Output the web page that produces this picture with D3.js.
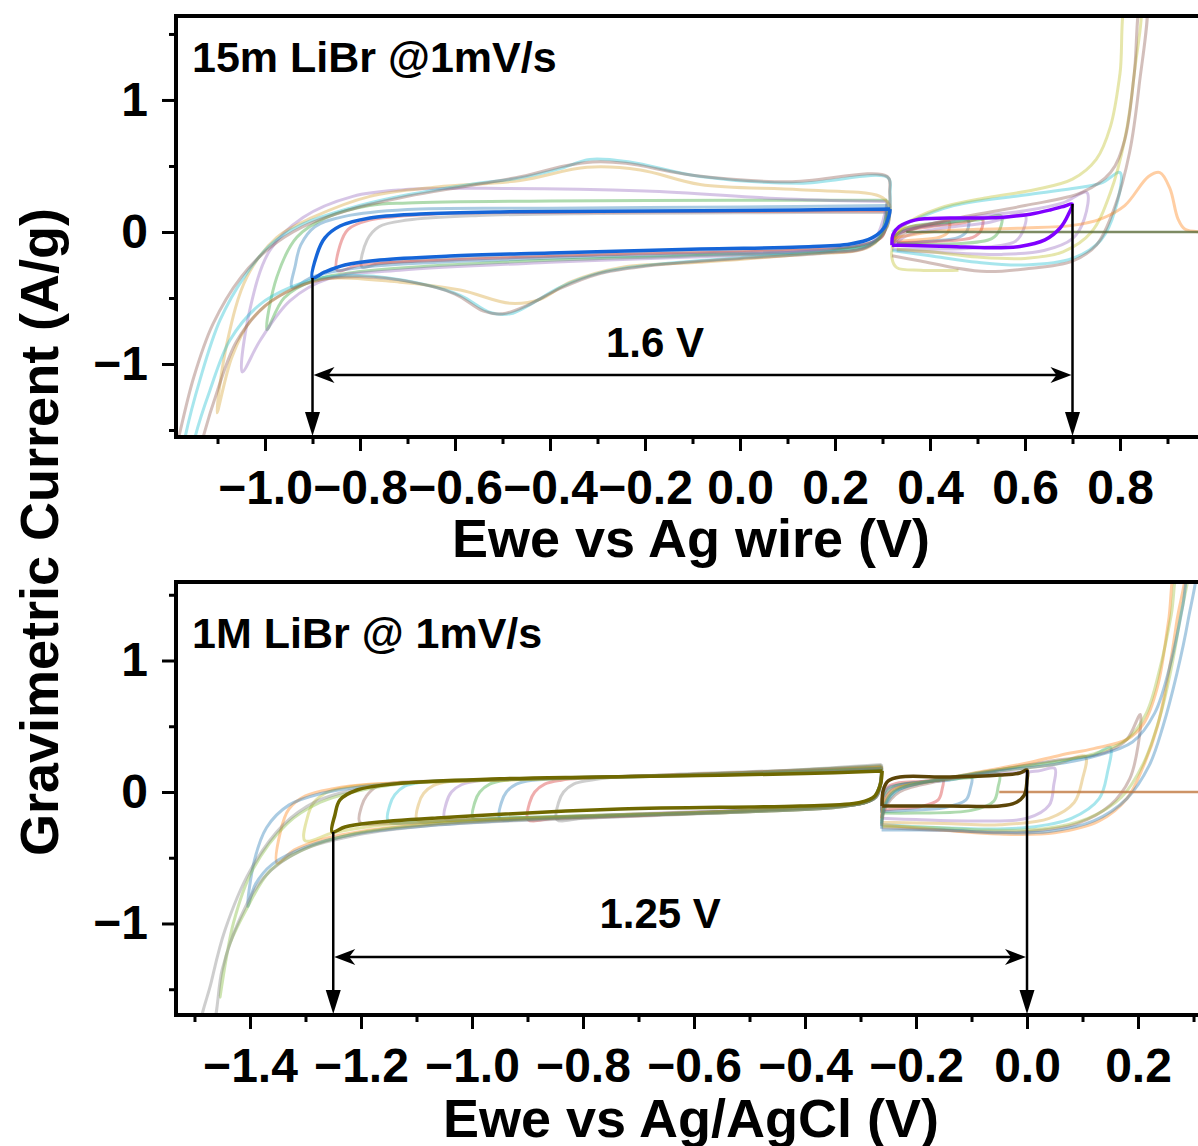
<!DOCTYPE html>
<html>
<head>
<meta charset="utf-8">
<script src="https://cdn.jsdelivr.net/npm/d3@7"></script>
<style>
body { margin: 0; background: #fff; }
svg { display: block; font-family: "Liberation Sans", Arial, sans-serif; font-weight: bold; }
</style>
</head>
<body>
<svg id="chart"></svg>
<script>
const chartSize = { width: 1198, height: 1146 };

// axis extents and ticks
const wireXDomain = [-1.1874, 1.0];
const wireYDomain = [-1.553, 1.636];
const agclXDomain = [-1.5333, 0.3387];
const agclYDomain = [-1.696, 1.597];
const wireMajorTicks = [-1.0, -0.8, -0.6, -0.4, -0.2, 0.0, 0.2, 0.4, 0.6, 0.8];
const wireMinorTicks = [-1.1, -0.9, -0.7, -0.5, -0.3, -0.1, 0.1, 0.3, 0.5, 0.7, 0.9];
const agclMajorTicks = [-1.4, -1.2, -1.0, -0.8, -0.6, -0.4, -0.2, 0.0, 0.2];
const agclMinorTicks = [-1.5, -1.3, -1.1, -0.9, -0.7, -0.5, -0.3, -0.1, 0.1, 0.3];
const currentMajorTicks = [-1, 0, 1];
const currentMinorTicks = [-1.5, -0.5, 0.5, 1.5];

// ---- 15m LiBr, Ag wire: negative-side scans ----
const wireBlue = [[0.316,0.174],[0.126,0.167],[-0.189,0.159],[-0.505,0.152],[-0.674,0.136],[-0.779,0.106],[-0.842,0.045],[-0.874,-0.045],[-0.891,-0.174],[-0.9,-0.348],[-0.874,-0.303],[-0.832,-0.25],[-0.758,-0.212],[-0.611,-0.182],[-0.4,-0.159],[-0.084,-0.129],[0.126,-0.114],[0.232,-0.091],[0.278,-0.045],[0.303,0.03],[0.314,0.129],[0.316,0.174]];
const wireGray = [[0.31,0.15],[0.0,0.145],[-0.3,0.14],[-0.55,0.125],[-0.7,0.09],[-0.76,0.04],[-0.785,-0.06],[-0.796,-0.265],[-0.76,-0.24],[-0.6,-0.2],[-0.3,-0.17],[0.1,-0.13],[0.25,-0.1],[0.3,-0.03],[0.31,0.15]];
const wireRed = [[0.31,0.16],[0.0,0.155],[-0.35,0.15],[-0.65,0.135],[-0.78,0.09],[-0.825,0.02],[-0.842,-0.1],[-0.848,-0.29],[-0.8,-0.25],[-0.6,-0.21],[-0.3,-0.175],[0.1,-0.14],[0.25,-0.105],[0.3,-0.03],[0.31,0.16]];
const wireLightBlue = [[0.31,0.2],[0.0,0.19],[-0.4,0.18],[-0.7,0.17],[-0.83,0.12],[-0.895,0.04],[-0.925,-0.1],[-0.936,-0.25],[-0.943,-0.42],[-0.9,-0.34],[-0.8,-0.27],[-0.5,-0.21],[-0.1,-0.17],[0.2,-0.13],[0.29,-0.05],[0.31,0.2]];
const wireGreen = [[0.31,0.24],[0.0,0.24],[-0.4,0.235],[-0.7,0.22],[-0.78,0.2],[-0.87,0.11],[-0.933,-0.04],[-0.975,-0.34],[-0.996,-0.74],[-0.96,-0.5],[-0.9,-0.37],[-0.8,-0.3],[-0.5,-0.23],[-0.1,-0.18],[0.2,-0.14],[0.29,-0.06],[0.31,0.24]];
const wireLavender = [[0.31,0.23],[0.1,0.25],[-0.2,0.31],[-0.5,0.33],[-0.709,0.32],[-0.815,0.27],[-0.92,0.11],[-0.99,-0.14],[-1.032,-0.59],[-1.048,-1.06],[-1.01,-0.82],[-0.947,-0.52],[-0.863,-0.35],[-0.716,-0.29],[-0.4,-0.23],[-0.1,-0.19],[0.126,-0.15],[0.274,-0.1],[0.31,0.23]];
const wireTan = [[0.316,0.2],[0.295,0.27],[0.126,0.32],[-0.084,0.36],[-0.21,0.47],[-0.322,0.49],[-0.463,0.39],[-0.638,0.34],[-0.779,0.27],[-0.9,0.11],[-0.975,-0.04],[-1.038,-0.34],[-1.08,-0.84],[-1.101,-1.37],[-1.07,-0.95],[-1.03,-0.67],[-0.968,-0.48],[-0.884,-0.36],[-0.716,-0.38],[-0.589,-0.44],[-0.484,-0.54],[-0.421,-0.51],[-0.358,-0.38],[-0.253,-0.27],[-0.084,-0.23],[0.126,-0.17],[0.274,-0.11],[0.31,0.05],[0.316,0.2]];
const wireCyan = [[-1.175,-1.7],[-1.168,-1.55],[-1.137,-1.12],[-1.095,-0.67],[-1.042,-0.33],[-0.989,-0.1],[-0.926,0.05],[-0.821,0.18],[-0.716,0.27],[-0.568,0.36],[-0.463,0.41],[-0.379,0.48],[-0.316,0.55],[-0.232,0.53],[-0.084,0.42],[0.126,0.37],[0.312,0.41],[0.316,0.3],[0.31,0.05],[0.274,-0.1],[0.189,-0.15],[0.021,-0.19],[-0.189,-0.25],[-0.295,-0.31],[-0.379,-0.42],[-0.442,-0.55],[-0.484,-0.62],[-0.526,-0.61],[-0.589,-0.48],[-0.674,-0.39],[-0.8,-0.33],[-0.884,-0.35],[-0.947,-0.42],[-1.011,-0.55],[-1.074,-0.82],[-1.116,-1.2],[-1.147,-1.55],[-1.155,-1.7]];
const wireBrown = [[-1.19,-1.7],[-1.178,-1.5],[-1.15,-1.1],[-1.11,-0.7],[-1.05,-0.34],[-0.99,-0.12],[-0.92,0.04],[-0.82,0.17],[-0.7,0.27],[-0.57,0.35],[-0.46,0.42],[-0.37,0.5],[-0.31,0.53],[-0.24,0.52],[-0.1,0.43],[0.1,0.38],[0.31,0.42],[0.315,0.3],[0.31,0.04],[0.27,-0.11],[0.18,-0.16],[0.0,-0.2],[-0.2,-0.26],[-0.3,-0.32],[-0.38,-0.43],[-0.45,-0.56],[-0.5,-0.62],[-0.54,-0.6],[-0.6,-0.47],[-0.69,-0.38],[-0.8,-0.34],[-0.88,-0.36],[-0.94,-0.43],[-1.0,-0.56],[-1.06,-0.83],[-1.1,-1.2],[-1.13,-1.55],[-1.14,-1.7]];

// ---- 15m LiBr, Ag wire: positive-side scans ----
const wirePurple = [[0.32,-0.1],[0.322,-0.02],[0.335,0.04],[0.368,0.09],[0.442,0.105],[0.547,0.11],[0.611,0.135],[0.653,0.167],[0.684,0.197],[0.699,0.212],[0.691,0.13],[0.674,0.03],[0.642,-0.06],[0.589,-0.11],[0.526,-0.12],[0.442,-0.11],[0.337,-0.1],[0.32,-0.1]];
const wirePosOrange = [[0.32,-0.08],[0.33,0.0],[0.36,0.04],[0.41,0.06],[0.44,0.08],[0.438,0.0],[0.42,-0.04],[0.37,-0.06],[0.32,-0.07]];
const wirePosBlue = [[0.32,-0.1],[0.33,-0.02],[0.37,0.03],[0.43,0.06],[0.48,0.09],[0.478,0.01],[0.46,-0.04],[0.4,-0.07],[0.33,-0.09]];
const wirePosRed = [[0.32,-0.06],[0.34,0.0],[0.4,0.04],[0.47,0.07],[0.51,0.1],[0.507,0.01],[0.49,-0.04],[0.42,-0.07],[0.33,-0.08]];
const wirePosGreen = [[0.32,-0.05],[0.35,0.03],[0.42,0.07],[0.5,0.09],[0.55,0.12],[0.547,0.02],[0.53,-0.05],[0.45,-0.09],[0.33,-0.09]];
const wirePosLavender = [[0.32,-0.12],[0.35,-0.03],[0.43,0.03],[0.52,0.07],[0.6,0.13],[0.597,0.02],[0.58,-0.07],[0.5,-0.12],[0.4,-0.13],[0.32,-0.13]];
const wirePosLavender2 = [[0.32,-0.1],[0.34,0.0],[0.4,0.06],[0.5,0.12],[0.6,0.16],[0.68,0.22],[0.73,0.3],[0.725,0.1],[0.7,-0.05],[0.64,-0.14],[0.55,-0.17],[0.45,-0.16],[0.33,-0.14]];
const wirePosCyan = [[0.32,0.0],[0.36,0.08],[0.45,0.2],[0.6,0.28],[0.7,0.33],[0.76,0.37],[0.8,0.45],[0.79,0.17],[0.76,-0.06],[0.7,-0.2],[0.6,-0.25],[0.5,-0.23],[0.4,-0.18],[0.32,-0.14]];
const wirePosOlive = [[0.46,-0.29],[0.38,-0.29],[0.33,-0.27],[0.32,-0.2],[0.325,-0.06],[0.35,0.06],[0.42,0.18],[0.52,0.26],[0.62,0.32],[0.7,0.4],[0.75,0.55],[0.78,0.8],[0.8,1.2],[0.815,1.75],[0.84,1.75],[0.83,1.2],[0.81,0.7],[0.78,0.3],[0.74,0.0],[0.68,-0.15],[0.6,-0.2],[0.5,-0.19],[0.4,-0.15],[0.33,-0.13]];
const wirePosBrown = [[0.32,-0.1],[0.35,0.0],[0.45,0.1],[0.6,0.2],[0.72,0.3],[0.78,0.45],[0.81,0.7],[0.83,1.2],[0.845,1.75],[0.855,1.75],[0.84,1.1],[0.82,0.6],[0.79,0.2],[0.75,-0.1],[0.7,-0.22],[0.6,-0.28],[0.52,-0.3],[0.45,-0.27],[0.38,-0.22],[0.32,-0.18]];
const wirePosPeak = [[0.32,-0.05],[0.4,0.0],[0.5,0.02],[0.6,0.03],[0.7,0.05],[0.76,0.1],[0.81,0.2],[0.86,0.42],[0.884,0.45],[0.905,0.33],[0.922,0.1],[0.937,0.02],[0.98,0.0],[1.0,0.0]];
const wireZeroTrace = [[0.35,0.0],[0.6,0.0],[1.0,0.0]];

// ---- 1M LiBr, Ag/AgCl: negative-side scans ----
const agclOlive = [[-0.261,0.16],[-0.4,0.14],[-0.59,0.125],[-0.8,0.113],[-0.95,0.1],[-1.124,0.068],[-1.207,0.015],[-1.238,-0.061],[-1.247,-0.175],[-1.252,-0.304],[-1.229,-0.266],[-1.184,-0.236],[-1.063,-0.198],[-0.733,-0.13],[-0.409,-0.106],[-0.301,-0.08],[-0.274,-0.03],[-0.264,0.06],[-0.261,0.16]];
const agclGray = [[-0.262,0.2],[-0.4,0.17],[-0.6,0.14],[-0.75,0.11],[-0.787,0.09],[-0.817,0.06],[-0.835,0.0],[-0.844,-0.08],[-0.847,-0.21],[-0.8,-0.2],[-0.65,-0.17],[-0.45,-0.13],[-0.32,-0.1],[-0.28,-0.06],[-0.266,0.04],[-0.262,0.2]];
const agclRed = [[-0.262,0.19],[-0.4,0.165],[-0.6,0.135],[-0.8,0.105],[-0.839,0.09],[-0.869,0.06],[-0.887,0.0],[-0.896,-0.08],[-0.899,-0.21],[-0.85,-0.2],[-0.7,-0.18],[-0.5,-0.14],[-0.33,-0.1],[-0.28,-0.06],[-0.266,0.04],[-0.262,0.19]];
const agclBlue = [[-0.262,0.18],[-0.4,0.16],[-0.6,0.13],[-0.85,0.1],[-0.89,0.09],[-0.92,0.06],[-0.938,0.0],[-0.947,-0.08],[-0.95,-0.2],[-0.9,-0.2],[-0.75,-0.18],[-0.5,-0.14],[-0.33,-0.1],[-0.28,-0.06],[-0.266,0.04],[-0.262,0.18]];
const agclGreen = [[-0.262,0.18],[-0.4,0.155],[-0.6,0.13],[-0.9,0.1],[-0.938,0.09],[-0.968,0.06],[-0.986,0.0],[-0.995,-0.08],[-0.998,-0.2],[-0.95,-0.2],[-0.8,-0.18],[-0.5,-0.14],[-0.33,-0.1],[-0.28,-0.06],[-0.266,0.04],[-0.262,0.18]];
const agclPurple = [[-0.262,0.18],[-0.4,0.155],[-0.6,0.13],[-0.95,0.095],[-0.989,0.085],[-1.019,0.055],[-1.037,0.0],[-1.046,-0.08],[-1.049,-0.2],[-1.0,-0.21],[-0.85,-0.19],[-0.6,-0.15],[-0.4,-0.12],[-0.3,-0.09],[-0.272,-0.04],[-0.264,0.05],[-0.262,0.18]];
const agclTan = [[-0.262,0.17],[-0.4,0.15],[-0.7,0.12],[-1.0,0.09],[-1.04,0.08],[-1.069,0.05],[-1.087,-0.01],[-1.096,-0.09],[-1.099,-0.21],[-1.05,-0.22],[-0.9,-0.2],[-0.6,-0.16],[-0.4,-0.12],[-0.3,-0.09],[-0.272,-0.04],[-0.264,0.05],[-0.262,0.17]];
const agclCyan = [[-0.262,0.17],[-0.4,0.15],[-0.7,0.115],[-1.05,0.085],[-1.09,0.075],[-1.121,0.045],[-1.139,-0.02],[-1.148,-0.1],[-1.151,-0.22],[-1.1,-0.23],[-0.95,-0.2],[-0.6,-0.16],[-0.4,-0.12],[-0.3,-0.09],[-0.272,-0.04],[-0.264,0.05],[-0.262,0.17]];
const agclMauve = [[-0.262,0.17],[-0.4,0.145],[-0.7,0.115],[-1.1,0.08],[-1.14,0.07],[-1.172,0.04],[-1.19,-0.03],[-1.199,-0.11],[-1.202,-0.23],[-1.15,-0.24],[-1.0,-0.21],[-0.7,-0.17],[-0.4,-0.12],[-0.3,-0.09],[-0.272,-0.04],[-0.264,0.05],[-0.262,0.17]];
const agclYellow = [[-0.262,0.18],[-0.4,0.15],[-0.7,0.115],[-1.0,0.085],[-1.15,0.065],[-1.22,0.04],[-1.26,0.0],[-1.285,-0.08],[-1.297,-0.2],[-1.301,-0.37],[-1.25,-0.31],[-1.18,-0.26],[-1.06,-0.22],[-0.8,-0.18],[-0.5,-0.14],[-0.33,-0.1],[-0.28,-0.05],[-0.265,0.05],[-0.262,0.18]];
const agclOrange = [[-0.262,0.19],[-0.4,0.16],[-0.7,0.12],[-1.0,0.085],[-1.18,0.06],[-1.25,0.025],[-1.3,-0.03],[-1.33,-0.13],[-1.345,-0.3],[-1.351,-0.54],[-1.32,-0.44],[-1.27,-0.36],[-1.2,-0.3],[-1.06,-0.24],[-0.8,-0.19],[-0.5,-0.15],[-0.33,-0.11],[-0.28,-0.06],[-0.265,0.04],[-0.262,0.19]];
const agclLightBlue = [[-0.262,0.18],[-0.5,0.14],[-0.8,0.11],[-1.1,0.075],[-1.2,0.04],[-1.27,-0.01],[-1.33,-0.1],[-1.37,-0.27],[-1.392,-0.52],[-1.404,-0.87],[-1.39,-0.7],[-1.36,-0.55],[-1.3,-0.42],[-1.21,-0.32],[-1.06,-0.25],[-0.8,-0.19],[-0.5,-0.15],[-0.33,-0.11],[-0.28,-0.06],[-0.265,0.04],[-0.262,0.18]];
const agclLime = [[-0.262,0.2],[-0.5,0.15],[-0.8,0.11],[-1.0,0.085],[-1.12,0.065],[-1.214,0.0],[-1.274,-0.08],[-1.333,-0.24],[-1.395,-0.59],[-1.43,-1.0],[-1.454,-1.56],[-1.44,-1.2],[-1.405,-0.88],[-1.364,-0.6],[-1.305,-0.44],[-1.214,-0.32],[-1.063,-0.24],[-0.8,-0.19],[-0.5,-0.15],[-0.33,-0.11],[-0.28,-0.06],[-0.265,0.04],[-0.262,0.2]];
const agclGrayWide = [[-0.262,0.21],[-0.5,0.15],[-0.8,0.11],[-1.0,0.09],[-1.12,0.07],[-1.22,0.01],[-1.28,-0.07],[-1.34,-0.25],[-1.4,-0.6],[-1.445,-1.05],[-1.47,-1.45],[-1.488,-1.8],[-1.47,-1.8],[-1.45,-1.35],[-1.42,-0.98],[-1.375,-0.65],[-1.31,-0.45],[-1.21,-0.33],[-1.06,-0.25],[-0.8,-0.2],[-0.5,-0.15],[-0.33,-0.11],[-0.28,-0.06],[-0.265,0.04],[-0.262,0.21]];

// ---- 1M LiBr, Ag/AgCl: positive-side scans ----
const agclBrown = [[-0.261,-0.106],[-0.259,0.015],[-0.25,0.084],[-0.229,0.114],[-0.139,0.114],[-0.049,0.129],[-0.013,0.144],[0.0,0.167],[0.0,0.09],[-0.005,-0.023],[-0.022,-0.084],[-0.049,-0.106],[-0.139,-0.106],[-0.229,-0.106],[-0.261,-0.106]];
const agclPosRed = [[-0.262,-0.14],[-0.26,-0.03],[-0.25,0.04],[-0.23,0.07],[-0.19,0.08],[-0.16,0.09],[-0.151,0.1],[-0.153,0.02],[-0.16,-0.06],[-0.19,-0.11],[-0.24,-0.13],[-0.262,-0.14]];
const agclPosBlue = [[-0.262,-0.15],[-0.26,-0.04],[-0.25,0.03],[-0.2,0.07],[-0.14,0.09],[-0.1,0.11],[-0.102,0.03],[-0.11,-0.06],[-0.15,-0.12],[-0.22,-0.14],[-0.262,-0.15]];
const agclPosGreen = [[-0.262,-0.16],[-0.258,-0.04],[-0.24,0.04],[-0.18,0.08],[-0.1,0.11],[-0.05,0.13],[-0.052,0.04],[-0.06,-0.07],[-0.1,-0.14],[-0.2,-0.16],[-0.262,-0.16]];
const agclPosPurple = [[-0.262,-0.2],[-0.258,-0.06],[-0.24,0.03],[-0.15,0.1],[-0.05,0.14],[0.02,0.16],[0.05,0.18],[0.048,0.05],[0.04,-0.1],[0.0,-0.2],[-0.1,-0.22],[-0.2,-0.21],[-0.262,-0.2]];
const agclPosTan = [[-0.262,-0.22],[-0.256,-0.08],[-0.23,0.03],[-0.15,0.1],[-0.05,0.16],[0.05,0.21],[0.105,0.27],[0.1,0.1],[0.085,-0.08],[0.04,-0.2],[-0.05,-0.25],[-0.15,-0.24],[-0.262,-0.23]];
const agclPosCyan = [[-0.262,-0.24],[-0.255,-0.1],[-0.23,0.02],[-0.15,0.1],[-0.05,0.17],[0.05,0.23],[0.12,0.28],[0.15,0.34],[0.145,0.15],[0.13,-0.05],[0.08,-0.2],[0.0,-0.27],[-0.1,-0.28],[-0.262,-0.25]];
const agclPosMauve = [[-0.262,-0.26],[-0.255,-0.12],[-0.23,0.0],[-0.15,0.09],[-0.05,0.17],[0.05,0.24],[0.14,0.3],[0.18,0.4],[0.204,0.59],[0.2,0.35],[0.185,0.1],[0.15,-0.1],[0.09,-0.24],[0.0,-0.3],[-0.1,-0.3],[-0.262,-0.27]];
const agclPosOrange = [[-0.262,-0.2],[-0.255,-0.05],[-0.24,0.02],[-0.2,0.06],[-0.1,0.14],[0.0,0.22],[0.06,0.28],[0.12,0.33],[0.18,0.4],[0.21,0.52],[0.235,0.8],[0.255,1.3],[0.27,1.75],[0.285,1.75],[0.27,1.3],[0.255,0.9],[0.235,0.5],[0.21,0.2],[0.18,-0.05],[0.13,-0.22],[0.05,-0.31],[-0.05,-0.32],[-0.15,-0.29],[-0.262,-0.25]];
const agclPosLime = [[-0.262,-0.25],[-0.257,-0.1],[-0.24,0.01],[-0.15,0.1],[-0.05,0.17],[0.05,0.23],[0.12,0.29],[0.18,0.4],[0.215,0.6],[0.24,0.95],[0.26,1.35],[0.275,1.75],[0.29,1.75],[0.275,1.3],[0.258,0.9],[0.238,0.55],[0.21,0.22],[0.17,-0.04],[0.11,-0.2],[0.03,-0.28],[-0.07,-0.29],[-0.17,-0.27],[-0.262,-0.26]];
const agclPosLightBlue = [[-0.262,-0.28],[-0.258,-0.12],[-0.24,0.0],[-0.15,0.1],[-0.05,0.16],[0.05,0.21],[0.12,0.27],[0.19,0.38],[0.23,0.6],[0.26,1.0],[0.28,1.4],[0.295,1.75],[0.305,1.75],[0.29,1.3],[0.27,0.9],[0.245,0.5],[0.22,0.2],[0.18,-0.05],[0.12,-0.22],[0.04,-0.3],[-0.05,-0.31],[-0.15,-0.29],[-0.262,-0.29]];
const agclZeroTrace = [[-0.05,0.0],[0.15,0.0],[0.34,0.0]];

// faded traces and their colours, bold traces drawn last
const wireFaded = [wireGray, wireRed, wireLightBlue, wireGreen, wireLavender, wireTan, wireCyan, wireBrown,
  wirePosOrange, wirePosBlue, wirePosRed, wirePosGreen, wirePosLavender, wirePosLavender2, wirePosCyan,
  wirePosOlive, wirePosBrown, wirePosPeak];
const wireFadedColors = ["#7f7f7f", "#d62728", "#1f77b4", "#2ca02c", "#9467bd", "#d4a030", "#17becf", "#8c564b",
  "#ff7f0e", "#1f77b4", "#d62728", "#2ca02c", "#9467bd", "#9467bd", "#17becf",
  "#bcbd22", "#8c564b", "#ff7f0e"];
const wireBold = [wireBlue, wirePurple];
const wireBoldColors = ["#1565d8", "#8000ff"];

const agclFaded = [agclGray, agclRed, agclBlue, agclGreen, agclPurple, agclTan, agclCyan, agclMauve,
  agclYellow, agclOrange, agclLightBlue, agclLime, agclGrayWide,
  agclPosRed, agclPosBlue, agclPosGreen, agclPosPurple, agclPosTan, agclPosCyan, agclPosMauve,
  agclPosOrange, agclPosLime, agclPosLightBlue];
const agclFadedColors = ["#7f7f7f", "#d62728", "#1f77b4", "#2ca02c", "#9467bd", "#d4a030", "#17becf", "#8c564b",
  "#bcbd22", "#ff7f0e", "#1f77b4", "#7cb82f", "#7f7f7f",
  "#d62728", "#1f77b4", "#2ca02c", "#9467bd", "#d4a030", "#17becf", "#8c564b",
  "#ff7f0e", "#9bbd3a", "#1f77b4"];
const agclBoldTraces = [agclOlive, agclBrown];
const agclBoldColors = ["#6f6800", "#5c4508"];

// stability window annotations: [negative limit, positive limit]
const wireWindow = [-0.9, 0.7];
const wireWindowStart = [-0.348, 0.212];
const agclWindow = [-1.25, 0.0];
const agclWindowStart = [-0.304, 0.167];

const panels = [
  {
    id: "wire", box: { left: 176, right: 1215, top: 16, bottom: 437 },
    xDomain: wireXDomain, yDomain: wireYDomain,
    major: wireMajorTicks, minor: wireMinorTicks,
    faded: wireFaded, fadedColors: wireFadedColors,
    bold: wireBold, boldColors: wireBoldColors,
    zero: wireZeroTrace, zeroColor: "#5d6e3c",
    window: wireWindow, windowStart: wireWindowStart, arrowI: -1.083,
    spanText: "1.6 V", spanAt: [-0.179, -0.947],
    title: "15m LiBr @1mV/s", titleDy: 56,
    xTitle: "Ewe vs Ag wire (V)", xTitleY: 557
  },
  {
    id: "agcl", box: { left: 176, right: 1215, top: 582, bottom: 1015 },
    xDomain: agclXDomain, yDomain: agclYDomain,
    major: agclMajorTicks, minor: agclMinorTicks,
    faded: agclFaded, fadedColors: agclFadedColors,
    bold: agclBoldTraces, boldColors: agclBoldColors,
    zero: agclZeroTrace, zeroColor: "#c07840",
    window: agclWindow, windowStart: agclWindowStart, arrowI: -1.255,
    spanText: "1.25 V", spanAt: [-0.661, -1.034],
    title: "1M LiBr @ 1mV/s", titleDy: 66,
    xTitle: "Ewe vs Ag/AgCl (V)", xTitleY: 1137
  }
];

const svg = d3.select("#chart")
  .attr("width", chartSize.width)
  .attr("height", chartSize.height);

const styleAxis = (g, size) => {
  g.select(".domain").remove();
  g.selectAll(".tick line").attr("stroke", "#000").attr("stroke-width", 3);
  g.selectAll(".tick text")
    .attr("fill", "#000")
    .attr("font-size", size)
    .attr("font-weight", "bold");
};

const arrowDown = (g, x, y) =>
  g.append("path")
    .attr("d", `M${x},${y} L${x - 7.5},${y - 24} L${x + 7.5},${y - 24} Z`)
    .attr("fill", "#000");

const arrowSide = (g, x, y, dir) =>
  g.append("path")
    .attr("d", `M${x},${y} L${x - dir * 21},${y - 8} L${x - dir * 15},${y} L${x - dir * 21},${y + 8} Z`)
    .attr("fill", "#000");

const drawPanel = p => {
  const b = p.box;
  const x = d3.scaleLinear().domain(p.xDomain).range([b.left, b.right]);
  const y = d3.scaleLinear().domain(p.yDomain).range([b.bottom, b.top]);
  const g = svg.append("g").attr("class", p.id);

  g.append("clipPath").attr("id", `clip-${p.id}`)
    .append("rect")
    .attr("x", b.left).attr("y", b.top)
    .attr("width", b.right - b.left).attr("height", b.bottom - b.top);

  const line = d3.line()
    .x(d => x(d[0]))
    .y(d => y(d[1]))
    .curve(d3.curveCatmullRom.alpha(0.5));

  const traces = g.append("g").attr("clip-path", `url(#clip-${p.id})`);

  traces.selectAll(".faded")
    .data(p.faded)
    .enter()
    .append("path")
    .attr("class", "faded")
    .attr("d", line)
    .attr("fill", "none")
    .attr("stroke", (d, i) => p.fadedColors[i])
    .attr("stroke-opacity", 0.38)
    .attr("stroke-width", 3);

  traces.append("path")
    .attr("d", line(p.zero))
    .attr("fill", "none")
    .attr("stroke", p.zeroColor)
    .attr("stroke-opacity", 0.8)
    .attr("stroke-width", 2.5);

  traces.selectAll(".bold")
    .data(p.bold)
    .enter()
    .append("path")
    .attr("class", "bold")
    .attr("d", line)
    .attr("fill", "none")
    .attr("stroke", (d, i) => p.boldColors[i])
    .attr("stroke-width", 3.5);

  // window arrows
  const arrows = g.append("g").attr("stroke", "#000").attr("stroke-width", 2.5);
  p.window.forEach((v, i) => {
    arrows.append("line")
      .attr("x1", x(v)).attr("x2", x(v))
      .attr("y1", y(p.windowStart[i])).attr("y2", b.bottom - 20);
    arrowDown(g, x(v), b.bottom - 1);
  });
  const ya = y(p.arrowI);
  arrows.append("line")
    .attr("x1", x(p.window[0]) + 14).attr("x2", x(p.window[1]) - 14)
    .attr("y1", ya).attr("y2", ya);
  arrowSide(g, x(p.window[0]) + 1, ya, -1);
  arrowSide(g, x(p.window[1]) - 1, ya, 1);

  g.append("text")
    .attr("x", x(p.spanAt[0])).attr("y", y(p.spanAt[1]))
    .attr("text-anchor", "middle")
    .attr("font-size", 42)
    .text(p.spanText);

  g.append("text")
    .attr("x", b.left + 16).attr("y", b.top + p.titleDy)
    .attr("font-size", 43)
    .text(p.title);

  // axes
  const xMinor = g.append("g").attr("transform", `translate(0,${b.bottom})`)
    .call(d3.axisBottom(x).tickValues(p.minor).tickSize(7).tickFormat(""));
  styleAxis(xMinor, 48);
  const xMajor = g.append("g").attr("transform", `translate(0,${b.bottom})`)
    .call(d3.axisBottom(x).tickValues(p.major).tickSize(14).tickPadding(19).tickFormat(d3.format(".1f")));
  styleAxis(xMajor, 48);

  const yMinor = g.append("g").attr("transform", `translate(${b.left},0)`)
    .call(d3.axisLeft(y).tickValues(currentMinorTicks).tickSize(7).tickFormat(""));
  styleAxis(yMinor, 48);
  const yMajor = g.append("g").attr("transform", `translate(${b.left},0)`)
    .call(d3.axisLeft(y).tickValues(currentMajorTicks).tickSize(14).tickPadding(14).tickFormat(d3.format("d")));
  styleAxis(yMajor, 48);

  g.append("rect")
    .attr("x", b.left).attr("y", b.top)
    .attr("width", b.right - b.left).attr("height", b.bottom - b.top)
    .attr("fill", "none")
    .attr("stroke", "#000")
    .attr("stroke-width", 4);

  g.append("text")
    .attr("x", 691).attr("y", p.xTitleY)
    .attr("text-anchor", "middle")
    .attr("font-size", 54)
    .text(p.xTitle);
};

panels.forEach(drawPanel);

svg.append("text")
  .attr("transform", "translate(58,532) rotate(-90)")
  .attr("text-anchor", "middle")
  .attr("font-size", 54)
  .text("Gravimetric Current (A/g)");
</script>
</body>
</html>
